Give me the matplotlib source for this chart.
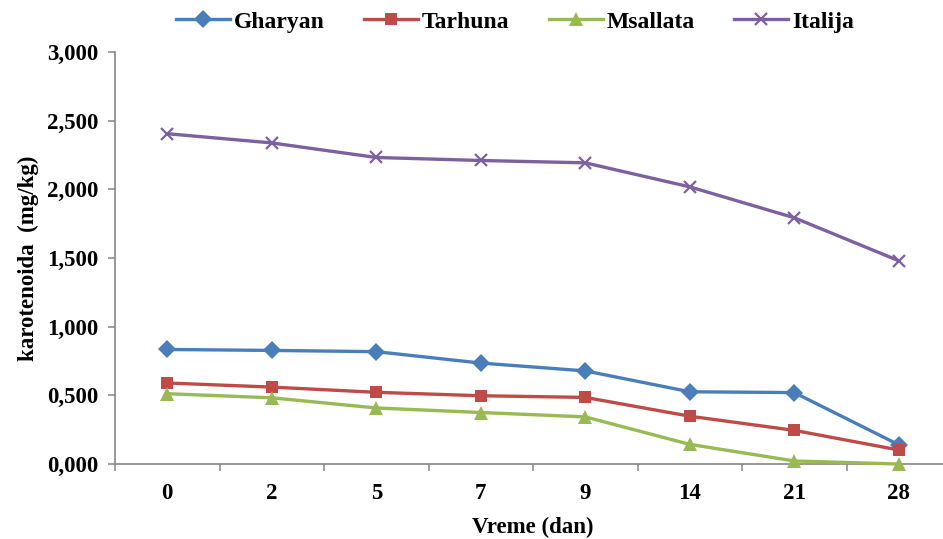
import numpy as np
import matplotlib
matplotlib.use("Agg")
import matplotlib.pyplot as plt
from matplotlib.ticker import FuncFormatter, FixedLocator

# ── Data ──────────────────────────────────────────────────────────
days = ["0", "2", "5", "7", "9", "14", "21", "28"]

gharyan  = [0.834, 0.827, 0.818, 0.735, 0.678, 0.526, 0.520, 0.140]
tarhuna  = [0.590, 0.560, 0.522, 0.497, 0.485, 0.348, 0.245, 0.102]
msallata = [0.512, 0.482, 0.408, 0.375, 0.343, 0.143, 0.022, 0.000]
italija  = [2.405, 2.338, 2.232, 2.210, 2.193, 2.018, 1.793, 1.480]

series = [
    ("Gharyan",  gharyan,  "#4A7EBB", "D", 9.5),
    ("Tarhuna",  tarhuna,  "#BE4B48", "s", 8.5),
    ("Msallata", msallata, "#98B954", "^", 9.5),
    ("Italija",  italija,  "#7D60A0", "x", 9.0),
]

_GREY = "#868686"
_FS = 16.5

plt.rcParams["font.family"] = ["Liberation Serif", "DejaVu Serif"]
plt.rcParams["font.weight"] = "bold"

fig = plt.figure(figsize=(9.43, 5.39), dpi=100, facecolor="white")
ax = fig.add_axes([115 / 943, 75 / 539, 836 / 943, 412 / 539])

x = np.arange(len(days))
for name, vals, col, mk, ms in series:
    kw = dict(markeredgewidth=1.6) if mk == "x" else dict(markeredgewidth=0)
    ax.plot(x, vals, color=col, lw=2.4, marker=mk, ms=ms, label=name,
            markerfacecolor=col, markeredgecolor=col, clip_on=False, zorder=3, **kw)

ax.set_xlim(-0.5, len(days) - 0.5)
ax.set_ylim(0, 3.0)

ax.yaxis.set_major_locator(FixedLocator(np.arange(0, 3.01, 0.5)))
ax.yaxis.set_major_formatter(FuncFormatter(lambda v, p: f"{v:.3f}".replace(".", ",")))
ax.set_xticks(x)
ax.set_xticklabels(days)
ax.set_xticks(np.arange(-0.5, len(days), 1.0), minor=True)

for sp in ("top", "right"):
    ax.spines[sp].set_visible(False)
for sp in ("left", "bottom"):
    ax.spines[sp].set_color(_GREY)
    ax.spines[sp].set_linewidth(1.2)

ax.tick_params(axis="y", direction="out", length=5, width=1.1, color=_GREY,
               labelsize=_FS, pad=7)
ax.tick_params(axis="x", which="major", length=0, labelsize=_FS, pad=14)
ax.tick_params(axis="x", which="minor", direction="out", length=5, width=1.1, color=_GREY)
for lab in ax.get_xticklabels() + ax.get_yticklabels():
    lab.set_fontweight("bold")

ax.set_xlabel("Vreme (dan)", fontsize=_FS, fontweight="bold", labelpad=9)
ax.set_ylabel("karotenoida  (mg/kg)", fontsize=_FS, fontweight="bold", labelpad=6)

fig.legend(loc="center", bbox_to_anchor=(515 / 943, 1 - 22 / 539), ncol=4,
           frameon=False, handlelength=2.3, handletextpad=0.17, columnspacing=1.65,
           prop={"size": 17, "weight": "bold"})

fig.savefig("out.png", dpi=100, facecolor="white")
